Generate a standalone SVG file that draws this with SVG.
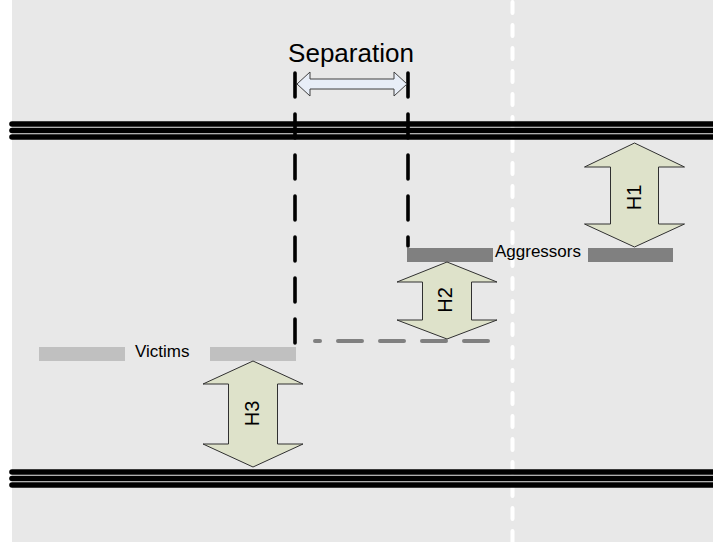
<svg xmlns="http://www.w3.org/2000/svg" width="713" height="542" viewBox="0 0 713 542">
<style>
.road{stroke:#000;stroke-width:5.6;stroke-linecap:round;fill:none}
.lane{stroke:#fff;stroke-width:4;stroke-linecap:round;stroke-dasharray:11 12;fill:none}
.sep{stroke:#000;stroke-width:3.6;stroke-linecap:round;stroke-dasharray:24 17;fill:none}
.ref{stroke:#808080;stroke-width:4;stroke-linecap:round;stroke-dasharray:24 18;stroke-dashoffset:19;fill:none}
.harrow{fill:#dee2ca;stroke:#303030;stroke-width:1}
.sarrow{fill:#e8eef8;stroke:#404040;stroke-width:1}
.agg{fill:#808080}
.vic{fill:#c0c0c0}
.lbl{font-family:"Liberation Sans",Arial,sans-serif;fill:#000}
</style>
<rect x="12" y="0" width="701" height="542" fill="#e8e8e8"/>
<g id="lane-divider">
<line class="lane" x1="512.5" y1="2" x2="512.5" y2="542"/>
</g>
<g id="road-top">
<line class="road" x1="12" y1="124" x2="716" y2="124"/>
<line class="road" x1="12" y1="130.5" x2="716" y2="130.5"/>
<line class="road" x1="12" y1="137" x2="716" y2="137"/>
</g>
<g id="road-bottom">
<line class="road" x1="12" y1="472" x2="716" y2="472"/>
<line class="road" x1="12" y1="478.5" x2="716" y2="478.5"/>
<line class="road" x1="12" y1="485" x2="716" y2="485"/>
</g>
<g id="connectors">
<line class="sep" x1="295" y1="73" x2="295" y2="346"/>
<line class="sep" x1="408" y1="73" x2="408" y2="246"/>
<line class="ref" x1="315" y1="341" x2="490" y2="341"/>
</g>
<g id="separation">
<polygon class="sarrow" points="297,84 310,72 310,79 394,79 394,72 407,84 394,96 394,89 310,89 310,96"/>
<text class="lbl" x="351" y="62" font-size="26" text-anchor="middle">Separation</text>
</g>
<g id="aggressors">
<rect class="agg" x="407" y="248" width="86" height="14"/>
<rect class="agg" x="588" y="248" width="85" height="14"/>
<text class="lbl" x="495" y="257" font-size="17">Aggressors</text>
</g>
<g id="victims">
<rect class="vic" x="39" y="347" width="86" height="14"/>
<rect class="vic" x="210" y="347" width="86" height="14"/>
<text class="lbl" x="135" y="356.5" font-size="17">Victims</text>
</g>
<g id="H1">
<polygon class="harrow" points="634.5,143 684.5,167 658.5,167 658.5,224 684.5,224 634.5,247 584.5,224 610.5,224 610.5,167 584.5,167"/>
<text class="lbl" font-size="20" text-anchor="middle" transform="translate(641,197.5) rotate(-90)">H1</text>
</g>
<g id="H2">
<polygon class="harrow" points="447,262 497,282 471.5,282 471.5,320 497,320 447,339 397,320 422.5,320 422.5,282 397,282"/>
<text class="lbl" font-size="20" text-anchor="middle" transform="translate(452,300) rotate(-90)">H2</text>
</g>
<g id="H3">
<polygon class="harrow" points="253,361 303,384 277.5,384 277.5,444 303,444 253,467 203,444 228.5,444 228.5,384 203,384"/>
<text class="lbl" font-size="20" text-anchor="middle" transform="translate(259,413.5) rotate(-90)">H3</text>
</g>
</svg>
